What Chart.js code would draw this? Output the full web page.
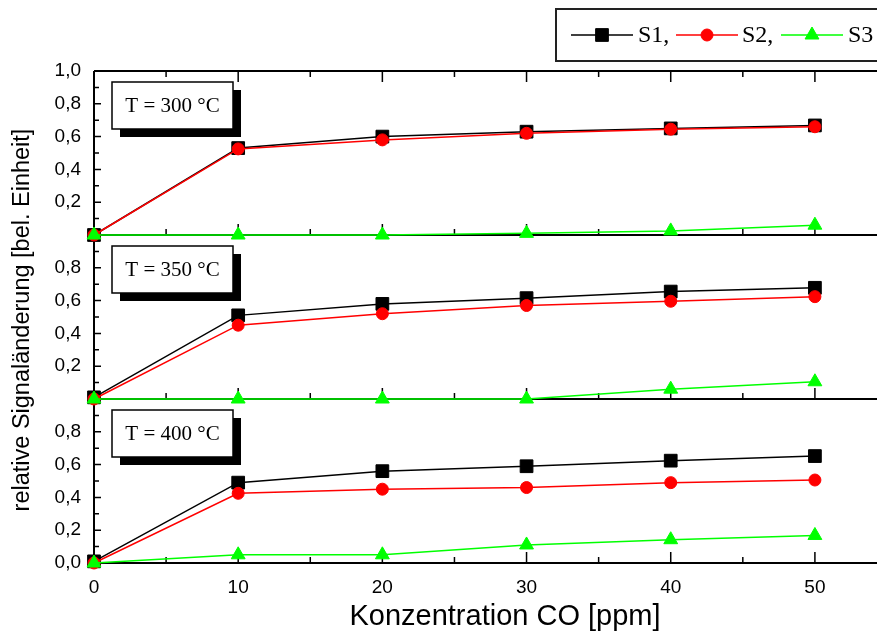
<!DOCTYPE html>
<html>
<head>
<meta charset="utf-8">
<script src="https://cdn.jsdelivr.net/npm/chart.js@4.4.1/dist/chart.umd.min.js"></script>
<style>
html, body { margin: 0; padding: 0; background: #fff; overflow: hidden; }
#wrap { width: 877px; height: 633px; overflow: hidden; position: relative; }
canvas { position: absolute; left: 0; top: 0; }
</style>
</head>
<body>
<div id="wrap"><canvas id="diagramm" width="900" height="633"></canvas></div>
<script>
const konzentration = [0, 10, 20, 30, 40, 50];

const s1_300 = [0.0, 0.53, 0.60, 0.63, 0.65, 0.668];
const s2_300 = [0.0, 0.525, 0.58, 0.62, 0.645, 0.66];
const s3_300 = [0.0, 0.0, 0.0, 0.01, 0.025, 0.06];

const s1_350 = [0.01, 0.51, 0.58, 0.615, 0.655, 0.678];
const s2_350 = [0.0, 0.45, 0.52, 0.57, 0.596, 0.624];
const s3_350 = [0.0, 0.0, 0.0, 0.0, 0.06, 0.105];

const s1_400 = [0.01, 0.49, 0.56, 0.59, 0.624, 0.652];
const s2_400 = [0.0, 0.425, 0.45, 0.46, 0.49, 0.506];
const s3_400 = [0.0, 0.05, 0.05, 0.11, 0.142, 0.168];

const temperaturen = ["T = 300 °C", "T = 350 °C", "T = 400 °C"];
const serien = ["S1,", "S2,", "S3"];
const farben = ["#000000", "#ff0000", "#00ff00"];
const symbole = ["rect", "circle", "triangle"];
const radien = [9, 6, 8];

// welche y-Werte eine Beschriftung bekommen (pro Panel)
const yTicksOben = [0.2, 0.4, 0.6, 0.8, 1.0];
const yTicksMitte = [0.2, 0.4, 0.6, 0.8];
const yTicksUnten = [0.0, 0.2, 0.4, 0.6, 0.8];
const xTicks = [0, 10, 20, 30, 40, 50];

const schrift = "'Liberation Sans', Arial, sans-serif";
const serif = "'Liberation Serif', 'Times New Roman', serif";

const panels = ["yOben", "yMitte", "yUnten"];

function punkte(werte) {
    return konzentration.map((k, i) => ({ x: k, y: werte[i] }));
}

function serie(werte, nr, achse) {
    return {
        label: serien[nr],
        data: punkte(werte),
        yAxisID: achse,
        borderColor: farben[nr],
        backgroundColor: farben[nr],
        borderWidth: 1.5,
        pointStyle: symbole[nr],
        pointRadius: radien[nr],
        pointBorderWidth: 1,
        pointBorderColor: farben[nr],
        pointBackgroundColor: farben[nr],
        tension: 0,
        clip: false,
        order: 3 - nr
    };
}

function yAchse(beschriftet) {
    return {
        type: "linear",
        position: "left",
        stack: "panele",
        stackWeight: 1,
        offset: false,
        min: 0,
        max: 1,
        grid: { display: false, drawTicks: false },
        border: { display: false },
        ticks: {
            stepSize: 0.2,
            autoSkip: false,
            padding: 13,
            color: "#000",
            font: { family: schrift, size: 19 },
            callback: function (v) {
                let r = Math.round(v * 10) / 10;
                return beschriftet.includes(r) ? r.toFixed(1).replace(".", ",") : "";
            }
        },
        afterFit: function (s) { s.width = 94; }
    };
}

const rahmenPlugin = {
    id: "rahmen",
    beforeDatasetsDraw(chart) {
        const ctx = chart.ctx;
        const ca = chart.chartArea;
        const sx = chart.scales.x;
        ctx.save();
        ctx.strokeStyle = "#000";
        ctx.lineWidth = 2;
        ctx.beginPath();
        ctx.moveTo(ca.left, ca.top);
        ctx.lineTo(ca.right, ca.top);
        ctx.moveTo(ca.left, ca.top);
        ctx.lineTo(ca.left, ca.bottom);
        ctx.moveTo(ca.right, ca.top);
        ctx.lineTo(ca.right, ca.bottom);
        panels.forEach(id => {
            const s = chart.scales[id];
            ctx.moveTo(ca.left, s.bottom);
            ctx.lineTo(ca.right, s.bottom);
        });
        ctx.stroke();

        ctx.lineWidth = 1.5;
        ctx.beginPath();
        panels.forEach(id => {
            const s = chart.scales[id];
            for (let i = 0; i <= 10; i++) {
                const py = s.getPixelForValue(i / 10);
                const len = i % 2 == 0 ? 7 : 5;
                ctx.moveTo(ca.left, py);
                ctx.lineTo(ca.left + len, py);
                ctx.moveTo(ca.right, py);
                ctx.lineTo(ca.right - len, py);
            }
            // x-Striche nach oben ins Panel
            for (let k = 0; k <= 55; k += 5) {
                const px = sx.getPixelForValue(k);
                const len = k % 10 == 0 ? 11 : 6;
                ctx.moveTo(px, s.bottom);
                ctx.lineTo(px, s.bottom - len);
            }
        });
        // oberer Rand: Striche nach unten
        for (let k = 0; k <= 55; k += 5) {
            const px = sx.getPixelForValue(k);
            const len = k % 10 == 0 ? 11 : 6;
            ctx.moveTo(px, ca.top);
            ctx.lineTo(px, ca.top + len);
        }
        ctx.stroke();

        // Temperatur-Kaesten mit Schatten
        panels.forEach((id, n) => {
            const s = chart.scales[id];
            const bx = ca.left + 18, by = s.top + 11, bw = 121, bh = 47;
            ctx.fillStyle = "#000";
            ctx.fillRect(bx + 8, by + 8, bw, bh);
            ctx.fillStyle = "#fff";
            ctx.fillRect(bx, by, bw, bh);
            ctx.lineWidth = 1.5;
            ctx.strokeRect(bx, by, bw, bh);
            ctx.fillStyle = "#000";
            ctx.font = "21px " + serif;
            ctx.textAlign = "center";
            ctx.textBaseline = "middle";
            ctx.fillText(temperaturen[n], bx + bw / 2, by + bh / 2 + 1);
        });
        ctx.restore();
    },
    afterDraw(chart) {
        const ctx = chart.ctx;
        ctx.save();
        // Achsentitel
        ctx.fillStyle = "#000";
        ctx.font = "29px " + schrift;
        ctx.textAlign = "center";
        ctx.textBaseline = "middle";
        ctx.fillText("Konzentration CO [ppm]", 505, 617);
        ctx.translate(23, 320);
        ctx.rotate(-Math.PI / 2);
        ctx.font = "23.5px " + schrift;
        ctx.fillText("relative Signaländerung [bel. Einheit]", 0, 0);
        ctx.restore();

        // Legende
        ctx.save();
        ctx.strokeStyle = "#222";
        ctx.lineWidth = 2;
        ctx.strokeRect(556, 9, 340, 52);
        const startX = [571, 676, 781];
        const textX = [638, 742, 848];
        ctx.font = "24px " + serif;
        ctx.textAlign = "left";
        ctx.textBaseline = "middle";
        for (let i = 0; i < 3; i++) {
            ctx.strokeStyle = farben[i];
            ctx.fillStyle = farben[i];
            ctx.lineWidth = 1.5;
            ctx.beginPath();
            ctx.moveTo(startX[i], 35);
            ctx.lineTo(startX[i] + 62, 35);
            ctx.stroke();
            ctx.lineWidth = 1;
            Chart.helpers.drawPoint(ctx, { pointStyle: symbole[i], radius: radien[i], borderWidth: 1 }, startX[i] + 31, 35);
            ctx.fillStyle = "#000";
            ctx.fillText(serien[i], textX[i], 36);
        }
        ctx.restore();
    }
};

const datensaetze = [
    serie(s1_300, 0, "yOben"), serie(s2_300, 1, "yOben"), serie(s3_300, 2, "yOben"),
    serie(s1_350, 0, "yMitte"), serie(s2_350, 1, "yMitte"), serie(s3_350, 2, "yMitte"),
    serie(s1_400, 0, "yUnten"), serie(s2_400, 1, "yUnten"), serie(s3_400, 2, "yUnten")
];

new Chart(document.getElementById("diagramm"), {
    type: "line",
    data: { datasets: datensaetze },
    options: {
        responsive: false,
        animation: false,
        layout: { padding: { left: 0, top: 71, right: 13, bottom: 0 } },
        plugins: { legend: { display: false }, tooltip: { enabled: false } },
        scales: {
            x: {
                type: "linear",
                min: 0,
                max: 55,
                grid: { display: false, drawTicks: false },
                border: { display: false },
                ticks: {
                    stepSize: 10,
                    padding: 13,
                    color: "#000",
                    font: { family: schrift, size: 19 },
                    callback: v => xTicks.includes(v) ? String(v) : ""
                },
                afterFit: function (s) { s.height = 70; }
            },
            yUnten: yAchse(yTicksUnten),
            yMitte: yAchse(yTicksMitte),
            yOben: yAchse(yTicksOben)
        }
    },
    plugins: [rahmenPlugin]
});
</script>
</body>
</html>
